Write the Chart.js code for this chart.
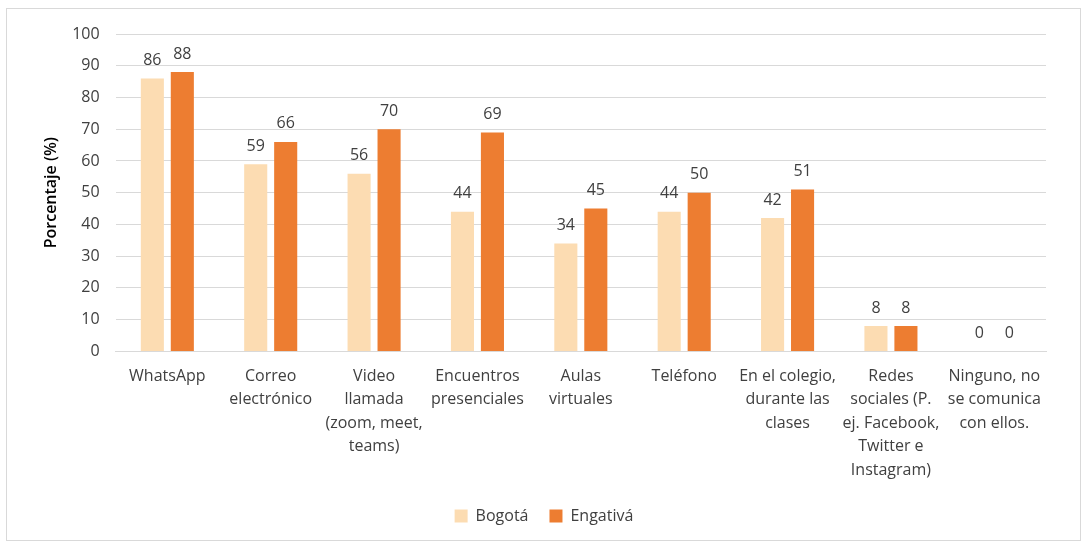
<!DOCTYPE html>
<html>
<head>
<meta charset="utf-8">
<script src="https://cdn.jsdelivr.net/npm/chart.js@4/dist/chart.umd.min.js"></script>
<style>
  body { margin: 0; background: #fff; }
  #wrap { position: relative; width: 1087px; height: 543px; }
  #frame { position: absolute; left: 6px; top: 8px; width: 1073px; height: 531px; border: 1px solid #d9d9d9; }
  #chart { position: absolute; left: 0; top: 0; }
</style>
</head>
<body>
<div id="wrap">
  <div id="frame"></div>
  <canvas id="chart" width="1087" height="543"></canvas>
</div>
<script>
// categories (multi-line labels)
const categories = [
  ["WhatsApp"],
  ["Correo", "electrónico"],
  ["Video", "llamada", "(zoom, meet,", "teams)"],
  ["Encuentros", "presenciales"],
  ["Aulas", "virtuales"],
  ["Teléfono"],
  ["En el colegio,", "durante las", "clases"],
  ["Redes", "sociales (P.", "ej. Facebook,", "Twitter e", "Instagram)"],
  ["Ninguno, no", "se comunica", "con ellos."]
];
const bogota = [86, 59, 56, 44, 34, 44, 42, 8, 0];
const engativa = [88, 66, 70, 69, 45, 50, 51, 8, 0];

const FONT = "'Open Sans', Lato, sans-serif";

// value labels above each bar
const barLabels = {
  id: "barLabels",
  afterDatasetsDraw(chart) {
    const ctx = chart.ctx;
    ctx.save();
    ctx.font = "16px " + FONT;
    ctx.fillStyle = "#404040";
    ctx.textAlign = "center";
    ctx.textBaseline = "bottom";
    chart.data.datasets.forEach((ds, i) => {
      chart.getDatasetMeta(i).data.forEach((bar, j) => {
        ctx.fillText(ds.data[j], bar.x, bar.y - 10);
      });
    });
    ctx.restore();
  }
};

new Chart(document.getElementById("chart"), {
  type: "bar",
  data: {
    labels: categories,
    datasets: [
      { label: "Bogotá", data: bogota, backgroundColor: "#fcdcb2" },
      { label: "Engativá", data: engativa, backgroundColor: "#ed7d31" }
    ]
  },
  options: {
    responsive: false,
    devicePixelRatio: 1,
    animation: false,
    datasets: { bar: { categoryPercentage: 0.58, barPercentage: 0.77 } },
    layout: { padding: { left: 42, right: 41, top: 34, bottom: 9 } },
    plugins: {
      tooltip: { enabled: false },
      legend: {
        position: "bottom",
        labels: { boxWidth: 13, boxHeight: 13, padding: 21, color: "#404040", font: { family: FONT, size: 16 } }
      }
    },
    scales: {
      x: {
        grid: { display: false },
        border: { display: true, color: "#d9d9d9", width: 1 },
        ticks: { color: "#404040", maxRotation: 0, autoSkip: false, padding: 5, font: { family: FONT, size: 16, lineHeight: 1.47 } }
      },
      y: {
        min: 0,
        max: 100,
        ticks: { stepSize: 10, color: "#404040", padding: 16, font: { family: FONT, size: 16 } },
        grid: { color: "#d9d9d9", drawTicks: false },
        border: { display: false },
        title: { display: true, text: "Porcentaje (%)", color: "#000", padding: { top: 0, bottom: -5 }, font: { family: FONT, size: 16, weight: "600" } }
      }
    }
  },
  plugins: [barLabels]
});
</script>
</body>
</html>
